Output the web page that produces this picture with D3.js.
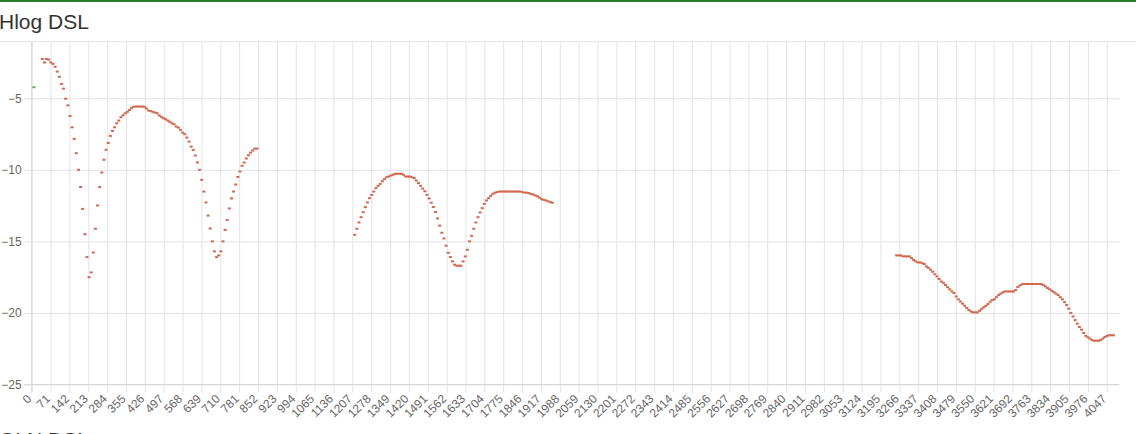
<!DOCTYPE html>
<html>
<head>
<meta charset="utf-8">
<script src="https://cdn.jsdelivr.net/npm/d3@7/dist/d3.min.js"></script>
<style>
  html, body { margin: 0; padding: 0; background: #fff; overflow: hidden; }
  svg { display: block; }
  text { font-family: "Liberation Sans", Arial, Helvetica, sans-serif; }
</style>
</head>
<body>
<svg id="chart" width="1136" height="434"></svg>
<script>
// ---- data ----
const toneCount = 4096;               // categories 0..4095
const groupSize = 8;                  // one Hlog value per 8 tones
const tickLabels = [0,71,142,213,284,355,426,497,568,639,710,781,852,923,994,1065,1136,1207,1278,1349,1420,1491,1562,1633,1704,1775,1846,1917,1988,2059,2130,2201,2272,2343,2414,2485,2556,2627,2698,2769,2840,2911,2982,3053,3124,3195,3266,3337,3408,3479,3550,3621,3692,3763,3834,3905,3976,4047];
const yTicks = [-25,-20,-15,-10,-5];

// upstream (US0) point
const usStart = 8;
const usValues = [-4.23];

// downstream band 1 (starts tone 40)
const ds1Start = 40;
const ds1Values = [-2.26,-2.5,-2.26,-2.3,-2.5,-2.6,-2.8,-3.14,-3.5,-4.0,-4.33,-5.03,-5.5,-6.24,-7.03,-7.84,-8.84,-10.0,-11.2,-12.73,-14.5,-16.1,-17.5,-17.17,-15.78,-14.12,-12.49,-11.2,-10.19,-9.3,-8.6,-8.12,-7.63,-7.28,-7.03,-6.75,-6.56,-6.33,-6.19,-6.05,-5.95,-5.82,-5.68,-5.6,-5.58,-5.58,-5.58,-5.58,-5.6,-5.72,-5.86,-5.9,-5.95,-6.0,-6.05,-6.2,-6.3,-6.4,-6.47,-6.56,-6.65,-6.75,-6.82,-6.98,-7.05,-7.21,-7.4,-7.51,-7.75,-8.03,-8.38,-8.61,-9.0,-9.49,-10.0,-10.7,-11.52,-12.28,-13.2,-14.1,-15.0,-15.7,-16.1,-15.98,-15.7,-15.0,-14.2,-13.5,-12.7,-12.0,-11.52,-11.03,-10.5,-10.12,-9.72,-9.49,-9.21,-8.98,-8.8,-8.65,-8.52,-8.52];

// downstream band 2 (starts tone 1216)
const ds2Start = 1216;
const ds2Values = [-14.54,-14.12,-13.68,-13.31,-12.96,-12.61,-12.28,-11.98,-11.75,-11.52,-11.28,-11.12,-10.98,-10.8,-10.65,-10.52,-10.47,-10.4,-10.35,-10.28,-10.28,-10.28,-10.28,-10.35,-10.47,-10.47,-10.47,-10.52,-10.58,-10.75,-10.93,-11.12,-11.31,-11.5,-11.75,-12.0,-12.3,-12.6,-12.95,-13.4,-13.9,-14.4,-14.8,-15.3,-15.8,-16.1,-16.4,-16.63,-16.7,-16.7,-16.7,-16.4,-16.05,-15.59,-15.0,-14.61,-14.12,-13.68,-13.31,-12.98,-12.68,-12.38,-12.14,-11.98,-11.82,-11.68,-11.6,-11.56,-11.52,-11.52,-11.52,-11.52,-11.52,-11.52,-11.52,-11.52,-11.52,-11.52,-11.52,-11.56,-11.59,-11.6,-11.63,-11.7,-11.72,-11.8,-11.85,-11.95,-12.05,-12.1,-12.14,-12.2,-12.26,-12.3];

// downstream band 3 (starts tone 3256)
const ds3Start = 3256;
const ds3Values = [-15.98,-15.98,-15.98,-16.05,-16.05,-16.05,-16.05,-16.17,-16.3,-16.4,-16.47,-16.47,-16.52,-16.58,-16.75,-16.85,-16.98,-17.12,-17.3,-17.45,-17.63,-17.8,-17.9,-18.05,-18.2,-18.35,-18.5,-18.61,-18.85,-19.05,-19.2,-19.35,-19.5,-19.65,-19.8,-19.9,-19.96,-19.96,-19.96,-19.85,-19.72,-19.6,-19.5,-19.38,-19.22,-19.1,-19.05,-18.9,-18.75,-18.65,-18.56,-18.5,-18.5,-18.5,-18.5,-18.5,-18.4,-18.2,-18.08,-18.0,-17.98,-17.98,-17.98,-17.98,-17.98,-17.98,-17.98,-17.98,-17.98,-18.05,-18.15,-18.26,-18.35,-18.45,-18.55,-18.65,-18.75,-18.9,-19.05,-19.25,-19.45,-19.7,-20.0,-20.25,-20.5,-20.75,-20.98,-21.17,-21.4,-21.6,-21.7,-21.8,-21.9,-21.94,-21.94,-21.94,-21.9,-21.8,-21.68,-21.6,-21.56,-21.56,-21.56];

// ---- build ----
const categories = d3.range(toneCount);
function toPoints(start, values) {
  return values.map((v, i) => ({ tone: start + i * groupSize, value: v }));
}
const dsPoints = [].concat(toPoints(ds1Start, ds1Values), toPoints(ds2Start, ds2Values), toPoints(ds3Start, ds3Values));
const usPoints = toPoints(usStart, usValues);

const W = 1136, H = 434;
const plot = { left: 31.7, right: 1119.5, top: 41.7, bottom: 384.5 };

const x = d3.scalePoint().domain(categories).range([plot.left, plot.right]);
const y = d3.scaleLinear().domain([-25, -1.05]).range([plot.bottom, plot.top]);

const svg = d3.select("#chart");

// top green bar
svg.append("rect").attr("x", 0).attr("y", 0).attr("width", W).attr("height", 2).attr("fill", "#2a7b2a");

// title
svg.append("text").attr("x", -1).attr("y", 28.5).attr("font-size", 21).attr("fill", "#333").text("Hlog DSL");

// header separator / top grid line
svg.append("line").attr("x1", 0).attr("x2", W).attr("y1", plot.top).attr("y2", plot.top)
  .attr("stroke", "#e3e3e3").attr("stroke-width", 1);

// x grid + axis
const xAxis = d3.axisBottom(x).tickValues(tickLabels)
  .tickSize(-(plot.bottom + 8 - plot.top)).tickPadding(0);
const gx = svg.append("g").attr("transform", `translate(0,${plot.bottom + 8})`).call(xAxis);
gx.select(".domain").remove();
gx.selectAll(".tick line").attr("stroke", "#e3e3e3");
gx.selectAll(".tick text")
  .attr("fill", "#666").attr("font-size", 12)
  .attr("text-anchor", "end")
  .attr("y", 0).attr("dy", "0.35em")
  .attr("transform", "translate(-3,4) rotate(-45)");

// y grid + axis
const yAxis = d3.axisLeft(y).tickValues(yTicks)
  .tickSize(-(plot.right - plot.left + 8)).tickPadding(2);
const gy = svg.append("g").attr("transform", `translate(${plot.left - 8},0)`).call(yAxis);
gy.select(".domain").remove();
gy.selectAll(".tick line").attr("stroke", "#e3e3e3");
gy.selectAll(".tick text").attr("fill", "#666").attr("font-size", 12);

// axis border lines
svg.append("line").attr("x1", plot.left).attr("x2", plot.left).attr("y1", plot.top).attr("y2", plot.bottom + 8)
  .attr("stroke", "#d8d8d8");
svg.append("line").attr("x1", plot.left - 8).attr("x2", plot.right).attr("y1", plot.bottom).attr("y2", plot.bottom)
  .attr("stroke", "#d8d8d8");

// points
svg.append("g").selectAll("rect").data(dsPoints).join("rect")
  .attr("x", d => x(d.tone) - 1.5).attr("y", d => y(d.value) - 1)
  .attr("width", 3).attr("height", 2).attr("fill", "#d0694f");
svg.append("g").selectAll("rect").data(usPoints).join("rect")
  .attr("x", d => x(d.tone) - 1.5).attr("y", d => y(d.value) - 1)
  .attr("width", 3).attr("height", 2).attr("fill", "#6aa86a");

// next panel title (cut off)
svg.append("text").attr("x", -1).attr("y", 447).attr("font-size", 21).attr("fill", "#333").text("QLN DSL");
</script>
</body>
</html>
